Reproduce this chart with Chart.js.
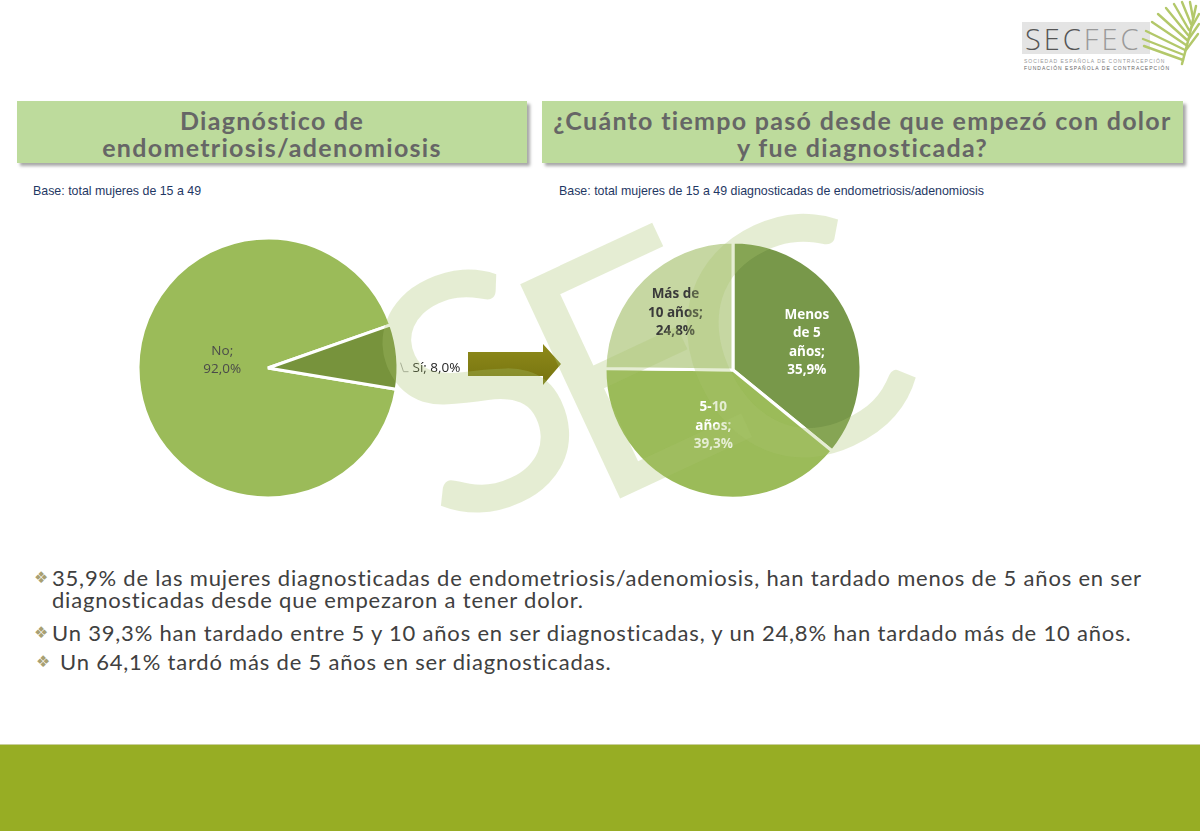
<!DOCTYPE html>
<html lang="es">
<head>
<meta charset="utf-8">
<title>Diagnóstico de endometriosis/adenomiosis</title>
<script src="https://cdn.jsdelivr.net/npm/chart.js@4.4.0/dist/chart.umd.min.js"></script>
<style>
  html, body { margin: 0; padding: 0; }
  body {
    width: 1200px; height: 831px; position: relative; overflow: hidden;
    background: #fff; font-family: 'Lato', sans-serif;
  }
  .header {
    position: absolute; top: 101px; height: 62px;
    background: #bddb9c; box-shadow: 3px 3px 3px rgba(0,0,0,0.35);
    color: #666; font-weight: bold; font-size: 25px; line-height: 27px; letter-spacing: 1.3px;
    display: flex; align-items: center; justify-content: center; text-align: center;
  }
  .header div { margin-top: 3px; }
  .base {
    position: absolute; top: 184px; font-family: 'Liberation Sans', sans-serif;
    font-size: 12.4px; color: #1f3864;
  }
  .line {
    position: absolute; white-space: nowrap; font-size: 22px; line-height: 24px; letter-spacing: 0.8px; color: #404040;
  }
  .dia {
    position: absolute; font-family: 'DejaVu Sans', sans-serif; font-size: 16px; line-height: 16px; color: #a8a072;
  }
  canvas { position: absolute; }
  .wm {
    position: absolute; z-index: 5; pointer-events: none;
    font-family: 'Lato', sans-serif; font-weight: 400; font-size: 330px; line-height: 1;
    color: rgba(170,196,110,0.3); transform: translate(-50%, -50%) rotate(-25deg);
  }
  .footer { position: absolute; left: 0; top: 744px; width: 1200px; height: 87px; background: #97ad24; border-top: 1px solid #c9cf9c; }
  .logo { position: absolute; left: 1022px; top: 22px; width: 128px; height: 32px; background: #e4e4e4; }
  .logo .t { position: absolute; left: 3px; top: 1px; font-family: 'Open Sans', sans-serif; font-weight: 300; font-size: 29px; letter-spacing: 3px; color: #555; line-height: 32px; }
  .logo .t span { color: #999; }
  .logo .s { position: absolute; left: 2px; font-family: 'Liberation Sans', sans-serif; font-size: 5px; letter-spacing: 1px; white-space: nowrap; color: #999; }
</style>
</head>
<body>

<div class="logo">
  <div class="t">SEC<span>FEC</span></div>
  <div class="s" style="top:36px">SOCIEDAD ESPAÑOLA DE CONTRACEPCIÓN</div>
  <div class="s" style="top:43px;color:#666">FUNDACIÓN ESPAÑOLA DE CONTRACEPCIÓN</div>
</div>
<svg style="position:absolute;left:1130px;top:0" width="70" height="80">
  <g stroke="#b3c86a" stroke-width="2.4" fill="none" stroke-linecap="round">
    <path d="M52 64 Q60 36 66 6" stroke-width="2.5"/>
    <path d="M53 60 L14 46"/><path d="M54 55 L13 39"/><path d="M55 50 L16 31"/>
    <path d="M56 45 L22 22"/><path d="M57 40 L28 14"/><path d="M58 35 L36 8"/>
    <path d="M59 30 L44 4"/><path d="M61 24 L52 2"/><path d="M63 18 L60 2"/>
    <path d="M56 50 L68 34"/><path d="M58 40 L69 24"/><path d="M60 30 L69 14"/>
  </g>
</svg>

<div class="header" style="left:17px;width:510px"><div>Diagnóstico de<br>endometriosis/adenomiosis</div></div>
<div class="header" style="left:542px;width:641px"><div>¿Cuánto tiempo pasó desde que empezó con dolor<br>y fue diagnosticada?</div></div>

<div class="base" style="left:33px">Base: total mujeres de 15 a 49</div>
<div class="base" style="left:559px">Base: total mujeres de 15 a 49 diagnosticadas de endometriosis/adenomiosis</div>

<canvas id="leftPie" width="500" height="316" style="left:18px;top:210px"></canvas>
<canvas id="rightPie" width="300" height="300" style="left:583px;top:220px"></canvas>

<svg style="position:absolute;left:465px;top:340px" width="100" height="50">
  <defs>
    <linearGradient id="ag" x1="0" x2="0" y1="0" y2="1">
      <stop offset="0" stop-color="#8e8a1a"/><stop offset="1" stop-color="#76730f"/>
    </linearGradient>
  </defs>
  <path d="M3 12 L78 12 L78 4 L96 24 L78 45 L78 36 L3 36 Z" fill="url(#ag)"/>
</svg>

<div class="wm" style="left:470px;top:382px">S</div>
<div class="wm" style="left:625px;top:355px">E</div>
<div class="wm" style="left:782px;top:335px">C</div>

<div class="dia" style="left:34px;top:570px">❖</div>
<div class="line" style="left:52px;top:566px">35,9% de las mujeres diagnosticadas de endometriosis/adenomiosis, han tardado menos de 5 años en ser</div>
<div class="line" style="left:52px;top:588px">diagnosticadas desde que empezaron a tener dolor.</div>
<div class="dia" style="left:34px;top:625px">❖</div>
<div class="line" style="left:52px;top:621px">Un 39,3% han tardado entre 5 y 10 años en ser diagnosticadas, y un 24,8% han tardado más de 10 años.</div>
<div class="dia" style="left:36px;top:654px">❖</div>
<div class="line" style="left:60px;top:650px">Un 64,1% tardó más de 5 años en ser diagnosticadas.</div>

<div class="footer"></div>

<script>
    // Chart data
    const leftCategories = ['No', 'Sí'];
    const leftValues = [92.0, 8.0];
    const leftColors = ['#9bbb59', '#77933c'];

    const rightCategories = ['Menos de 5 años', '5-10 años', 'Más de 10 años'];
    const rightValues = [35.9, 39.3, 24.8];
    const rightColors = ['#78984a', '#9bbb59', '#c6d7a2'];

    const fmtPct = v => v.toFixed(1).replace('.', ',') + '%';

    // Word wrap helper for slice labels
    const wrapText = (ctx, text, maxW) => {
        const words = text.split(' ');
        const lines = [];
        let cur = '';
        words.forEach(w => {
            const test = cur ? cur + ' ' + w : w;
            if (cur && ctx.measureText(test).width > maxW) {
                lines.push(cur);
                cur = w;
            } else {
                cur = test;
            }
        });
        if (cur) lines.push(cur);
        return lines;
    };

    // Draws "Category; xx,x%" labels inside or outside each slice
    const sliceLabels = {
        id: 'sliceLabels',
        afterDatasetsDraw(chart, args, opts) {
            const ctx = chart.ctx;
            const meta = chart.getDatasetMeta(0);
            const values = chart.data.datasets[0].data;
            meta.data.forEach((arc, i) => {
                const p = arc.getProps(['x', 'y', 'startAngle', 'endAngle', 'outerRadius'], true);
                const mid = (p.startAngle + p.endAngle) / 2;
                const text = chart.data.labels[i] + '; ' + fmtPct(values[i]);
                ctx.save();
                ctx.font = opts.fonts[i];
                ctx.fillStyle = opts.colors[i];
                if (opts.outside[i]) {
                    const ex = p.x + Math.cos(mid) * p.outerRadius;
                    const ey = p.y + Math.sin(mid) * p.outerRadius;
                    ctx.strokeStyle = '#a6a6a6';
                    ctx.lineWidth = 1;
                    ctx.beginPath();
                    ctx.moveTo(ex + 3, ey + 6);
                    ctx.lineTo(ex + 6, ey + 15);
                    ctx.lineTo(ex + 11, ey + 15);
                    ctx.stroke();
                    ctx.textAlign = 'left';
                    ctx.textBaseline = 'middle';
                    ctx.fillText(text, ex + 15, ey + 11);
                } else {
                    const r = p.outerRadius * opts.dist[i];
                    const nudge = opts.nudge[i] || [0, 0];
                    const cx = p.x + Math.cos(mid) * r + nudge[0];
                    const cy = p.y + Math.sin(mid) * r + nudge[1];
                    const lines = wrapText(ctx, text, opts.maxWidth);
                    ctx.textAlign = 'center';
                    ctx.textBaseline = 'middle';
                    const top = cy - (lines.length - 1) * opts.lineHeight / 2;
                    lines.forEach((ln, k) => ctx.fillText(ln, cx, top + k * opts.lineHeight));
                }
                ctx.restore();
            });
        }
    };

    // Left pie: diagnosis yes/no
    new Chart(document.getElementById('leftPie'), {
        type: 'pie',
        data: {
            labels: leftCategories,
            datasets: [{ data: leftValues, backgroundColor: leftColors, borderColor: '#fff', borderWidth: 3 }]
        },
        options: {
            responsive: false,
            animation: false,
            radius: 130,
            rotation: 99.4,
            plugins: {
                legend: { display: false },
                tooltip: { enabled: false },
                sliceLabels: {
                    fonts: ['13.5px "Open Sans"', '13.5px "Open Sans"'],
                    colors: ['#4a4a4a', '#262626'],
                    outside: [false, true],
                    dist: [0.33, 0],
                    nudge: [[-3, -12], [0, 0]],
                    maxWidth: 50,
                    lineHeight: 18
                }
            }
        },
        plugins: [sliceLabels]
    });

    // Right pie: time until diagnosis
    new Chart(document.getElementById('rightPie'), {
        type: 'pie',
        data: {
            labels: rightCategories,
            datasets: [{ data: rightValues, backgroundColor: rightColors, borderColor: '#fff', borderWidth: 3 }]
        },
        options: {
            responsive: false,
            animation: false,
            radius: 128,
            rotation: 0,
            plugins: {
                legend: { display: false },
                tooltip: { enabled: false },
                sliceLabels: {
                    fonts: ['bold 13.5px "Open Sans"', 'bold 13.5px "Open Sans"', 'bold 13.5px "Open Sans"'],
                    colors: ['#ffffff', '#ffffff', '#3a3a3a'],
                    outside: [false, false, false],
                    dist: [0.63, 0.45, 0.64],
                    nudge: [[1, 7], [0, 2], [0, 1]],
                    maxWidth: 62,
                    lineHeight: 18.5
                }
            }
        },
        plugins: [sliceLabels]
    });
</script>
</body>
</html>
